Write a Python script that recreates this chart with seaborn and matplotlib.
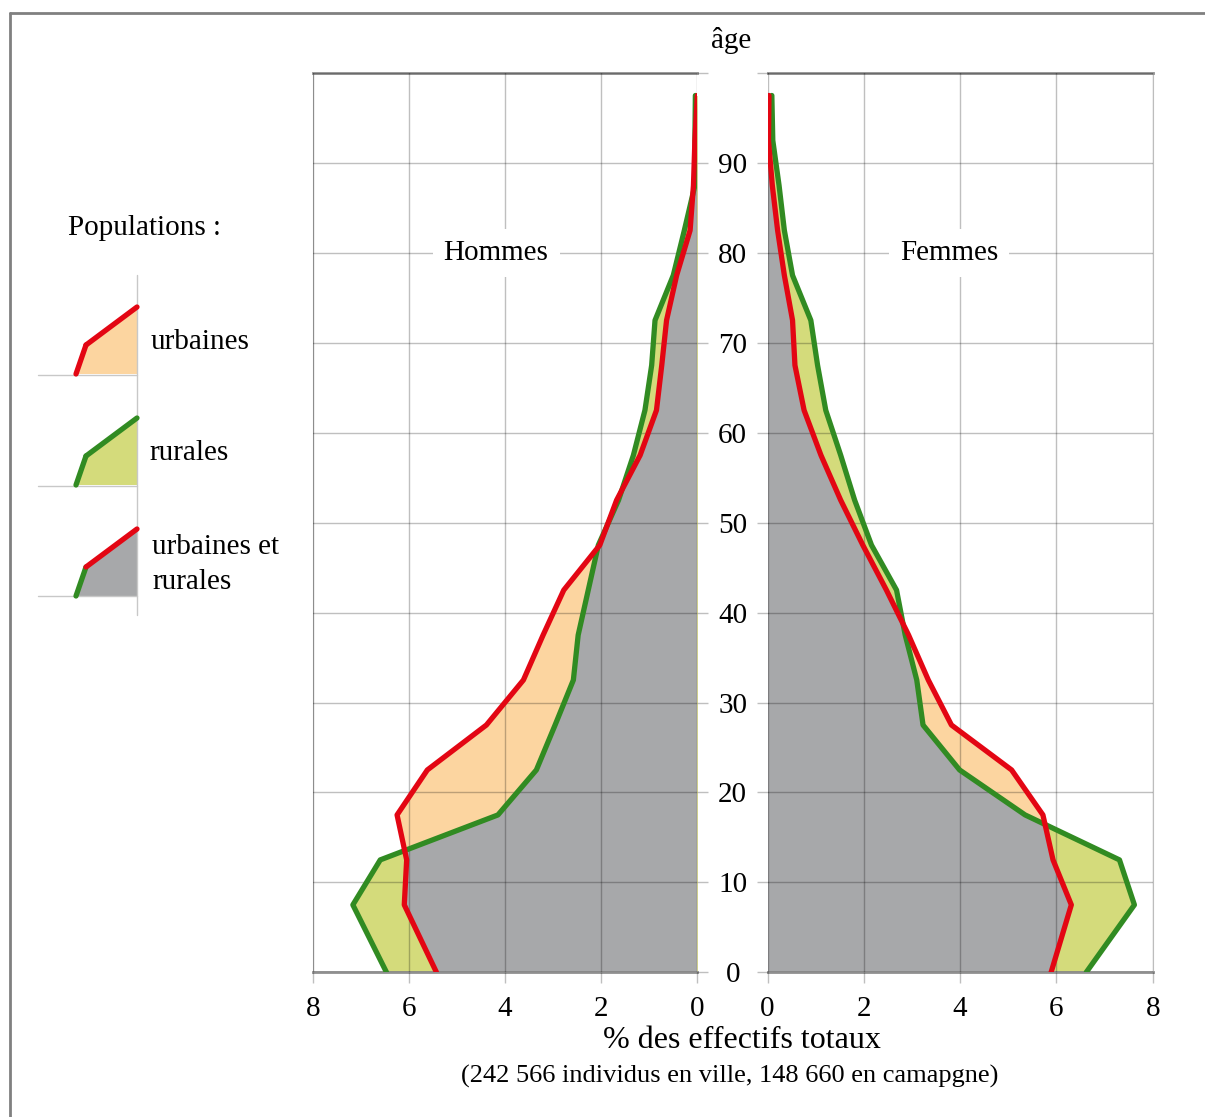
import numpy as np
import matplotlib
matplotlib.use('Agg')
import matplotlib.pyplot as plt
import seaborn as sns


# Data : pyramide des âges, % des effectifs totaux
ages = [0, 7.5, 12.5, 17.5, 22.5, 27.5, 32.5, 37.5, 42.5, 47.5,
        52.5, 57.5, 62.5, 67.5, 72.5, 77.5, 82.5, 87.5, 92.5, 97.5]

hommes_urbains = [5.43, 6.10, 6.05, 6.25, 5.62, 4.39, 3.62, 3.21, 2.78, 2.03,
                  1.68, 1.19, 0.85, 0.74, 0.64, 0.43, 0.15, 0.08, 0.05, 0.00]
hommes_ruraux = [6.47, 7.17, 6.60, 4.15, 3.35, 2.96, 2.58, 2.48, 2.27, 2.06,
                 1.64, 1.33, 1.09, 0.95, 0.88, 0.50, 0.27, 0.05, 0.05, 0.04]
femmes_urbaines = [5.89, 6.31, 5.93, 5.72, 5.07, 3.82, 3.34, 2.93, 2.47, 1.98,
                   1.52, 1.11, 0.76, 0.57, 0.52, 0.35, 0.21, 0.10, 0.02, 0.03]
femmes_rurales = [6.62, 7.62, 7.31, 5.35, 3.99, 3.23, 3.10, 2.86, 2.68, 2.16,
                  1.81, 1.52, 1.21, 1.04, 0.90, 0.52, 0.35, 0.24, 0.11, 0.09]

x_ticks = [0, 2, 4, 6, 8]
age_ticks = list(range(0, 101, 10))
age_labels = [str(a) for a in age_ticks[:-1]] + ['']

# colours
RED = '#e30613'
GREEN = '#318b22'
ORANGE = '#fcd5a0'
YG = '#d4db7b'
GRAY = '#a7a8aa'
GRID = (0, 0, 0, 0.25)
FRAME = '#8f8f8f'

sns.set_style('white')
plt.rcParams['font.family'] = ['Liberation Serif', 'DejaVu Serif']
plt.rcParams['text.color'] = 'black'
plt.rcParams['xtick.labelcolor'] = 'black'
plt.rcParams['ytick.labelcolor'] = 'black'

W, H = 1205, 1117
fig = plt.figure(figsize=(W / 100, H / 100), dpi=100)


def px_axes(x0, y0, x1, y1):
    return fig.add_axes([x0 / W, 1 - y1 / H, (x1 - x0) / W, (y1 - y0) / H])


def panel(ax, urban, rural):
    a = np.array(ages)
    u = np.array(urban)
    r = np.array(rural)
    ax.fill_betweenx(a, 0, u, color=ORANGE, lw=0, zorder=1)
    rur_poly = ax.fill_betweenx(a, 0, r, color=YG, lw=0, zorder=1.1)
    both = ax.fill_betweenx(a, 0, u, color=GRAY, lw=0, zorder=1.2)
    both.set_clip_path(rur_poly.get_paths()[0], ax.transData)
    sns.lineplot(x=r, y=a, sort=False, estimator=None, color=GREEN,
                 lw=3.8, ax=ax, zorder=3)
    sns.lineplot(x=u, y=a, sort=False, estimator=None, color=RED,
                 lw=3.8, ax=ax, zorder=3.1)
    ax.set_ylim(0, 100)
    ax.set_xticks(x_ticks)
    ax.set_yticks(age_ticks)
    ax.set_axisbelow(False)
    ax.grid(True, color='black', alpha=0.25, lw=1)
    ax.set_xlabel('')
    ax.set_ylabel('')
    for s in ['top', 'bottom']:
        ax.spines[s].set_color(FRAME)
        ax.spines[s].set_linewidth(2)
    ax.tick_params(axis='x', length=8, width=1, color=GRID, direction='out',
                   labelsize=21, pad=9, bottom=True, labelcolor='black')
    ax.tick_params(axis='y', length=8, width=1, color=GRID, direction='out')


ax_m = px_axes(313, 73, 697.3, 972.3)
ax_f = px_axes(767.5, 73, 1152.7, 972.3)

panel(ax_m, hommes_urbains, hommes_ruraux)
panel(ax_f, femmes_urbaines, femmes_rurales)

ax_m.set_xlim(8, 0)
ax_f.set_xlim(0, 8)

ax_m.spines['right'].set_visible(False)
ax_m.spines['left'].set_color('#bdbdbd')
ax_m.yaxis.tick_right()
ax_m.set_yticklabels(age_labels)
ax_m.tick_params(axis='y', labelsize=21, pad=17.5, labelcolor='black')
for lab in ax_m.get_yticklabels():
    lab.set_horizontalalignment('center')

ax_f.spines['left'].set_visible(False)
ax_f.spines['right'].set_color('#bdbdbd')
ax_f.yaxis.tick_left()
ax_f.tick_params(axis='y', labelleft=False)

ax_m.text(4.19, 80, 'Hommes', ha='center', va='center', fontsize=21,
          color='black', bbox=dict(fc='white', ec='none', pad=8), zorder=4)
ax_f.text(3.77, 80, 'Femmes', ha='center', va='center', fontsize=21,
          color='black', bbox=dict(fc='white', ec='none', pad=8), zorder=4)

# overlay in pixel units : frame, titles, legend
ov = fig.add_axes([0, 0, 1, 1])
ov.set_xlim(0, W)
ov.set_ylim(H, 0)
ov.axis('off')
ov.patch.set_alpha(0)

ov.plot([10, W], [13, 13], color='#808080', lw=2)
ov.plot([10, 10], [13, H], color='#808080', lw=2)

ov.text(731, 41, 'âge', ha='center', va='center', fontsize=21)
ov.text(742, 1040, '% des effectifs totaux', ha='center', va='center', fontsize=23)
ov.text(730, 1076, '(242 566 individus en ville, 148 660 en camapgne)',
        ha='center', va='center', fontsize=19)

ov.text(68, 228, 'Populations :', ha='left', va='center', fontsize=21)

# legend glyphs
ov.plot([137, 137], [275, 615], color='#c8c8c8', lw=1)
for base in [375, 486, 596]:
    ov.plot([38, 137], [base, base], color='#c8c8c8', lw=1)

leg_x = [76, 86, 137]
leg_dy = [0, -29, -67]
for base, fill_c, c1, c2 in [(374, ORANGE, RED, RED),
                             (485, YG, GREEN, GREEN),
                             (596, GRAY, GREEN, RED)]:
    ys = [base + d for d in leg_dy]
    ov.fill(leg_x + [137], ys + [base], color=fill_c, lw=0)
    ov.plot(leg_x[:2], ys[:2], color=c1, lw=3.8, solid_capstyle='round')
    ov.plot(leg_x[1:], ys[1:], color=c2, lw=3.8, solid_capstyle='round')

ov.text(151, 342, 'urbaines', ha='left', va='center', fontsize=21)
ov.text(149, 453, 'rurales', ha='left', va='center', fontsize=21)
ov.text(152, 547, 'urbaines et', ha='left', va='center', fontsize=21)
ov.text(152, 582, 'rurales', ha='left', va='center', fontsize=21)

fig.savefig('out.png', dpi=100)
